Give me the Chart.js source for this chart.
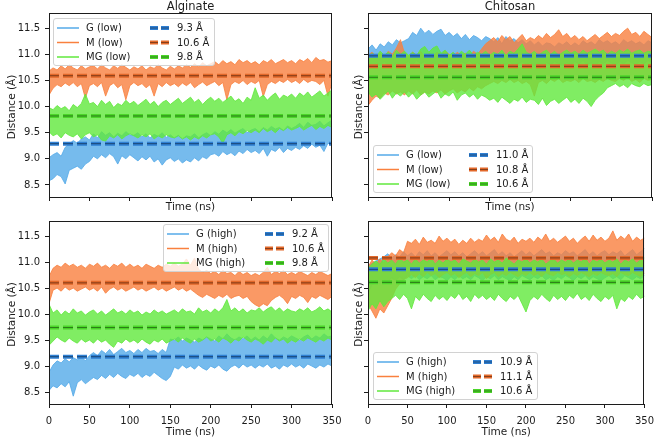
<!DOCTYPE html>
<html>
<head>
<meta charset="utf-8">
<script src="https://cdn.jsdelivr.net/npm/chart.js@4"></script>
<style>
  body { margin: 0; background: #fff; }
  canvas { position: absolute; left: 0; top: 0; }
</style>
</head>
<body>
<canvas id="c0" width="661" height="438"></canvas>
<canvas id="c1" width="661" height="438"></canvas>
<canvas id="c2" width="661" height="438"></canvas>
<canvas id="c3" width="661" height="438"></canvas>
<script>
// time axis, every 5 ns
const time = Array.from({ length: 71 }, (_, i) => i * 5);
const xTicks = [0, 50, 100, 150, 200, 250, 300, 350];
const yTicks = [8.5, 9.0, 9.5, 10.0, 10.5, 11.0, 11.5];
const names = ['G', 'M', 'MG'];

// Alginate, low -- upper / lower envelopes of each trace
const algLowG_hi = [9.02, 9.08, 9.12, 9.05, 9.22, 9.28, 9.35, 9.30, 9.38, 9.42, 9.36,
  9.48, 9.40, 9.52, 9.45, 9.50, 9.42, 9.49, 9.44, 9.52, 9.46,
  9.45, 9.50, 9.42, 9.48, 9.40, 9.47, 9.43, 9.50, 9.41, 9.46,
  9.40, 9.45, 9.38, 9.44, 9.42, 9.48, 9.40, 9.46, 9.50, 9.44,
  9.52, 9.47, 9.55, 9.50, 9.56, 9.49, 9.54, 9.58, 9.50, 9.55,
  9.58, 9.52, 9.60, 9.55, 9.62, 9.57, 9.60, 9.54, 9.63, 9.58,
  9.62, 9.68, 9.60, 9.70, 9.64, 9.66, 9.72, 9.63, 9.69, 9.74];
const algLowG_lo = [8.58, 8.62, 8.70, 8.66, 8.52, 8.78, 8.82, 8.86, 8.80, 8.90, 8.95,
  9.05, 9.00, 9.08, 9.02, 9.10, 9.04, 8.90, 9.06, 9.00, 9.08,
  9.02, 8.96, 9.04, 8.98, 9.05, 8.94, 9.00, 8.88, 8.98, 9.02,
  8.95, 9.00, 8.92, 8.98, 8.94, 9.02, 8.96, 9.04, 9.00, 9.08,
  9.10, 9.05, 9.14, 9.08, 9.12, 9.06, 9.15, 9.10, 9.18, 9.12,
  9.16, 9.10, 9.20, 9.05, 9.18, 9.14, 9.22, 9.12, 9.20, 9.16,
  9.22, 9.18, 9.25, 9.20, 9.28, 9.22, 9.26, 9.14, 9.30, 9.25];
const algLowM_hi = [10.68, 10.74, 10.70, 10.78, 10.72, 10.80, 10.74, 10.70, 10.78, 10.72, 10.76,
  10.78, 10.72, 10.80, 10.74, 10.70, 10.78, 10.73, 10.80, 10.75, 10.70,
  10.76, 10.72, 10.78, 10.70, 10.76, 10.73, 10.80, 10.74, 10.70, 10.77,
  10.72, 10.78, 10.74, 10.80, 10.75, 10.82, 10.76, 10.84, 10.78, 10.82,
  10.86, 10.80, 10.88, 10.82, 10.86, 10.80, 10.90, 10.84, 10.88, 10.82,
  10.86, 10.80, 10.88, 10.84, 10.90, 10.82, 10.86, 10.90, 10.84, 10.88,
  10.82, 10.90, 10.86, 10.92, 10.84, 10.94, 10.88, 10.90, 10.85, 10.88];
const algLowM_lo = [10.22, 10.35, 10.42, 10.38, 10.45, 10.40, 10.46, 10.38, 10.44, 10.16, 10.40,
  10.44, 10.38, 10.46, 10.20, 10.40, 10.45, 10.36, 10.42, 10.13, 10.40,
  10.46, 10.40, 10.44, 10.36, 10.42, 10.20, 10.44, 10.38, 10.46, 10.40,
  10.44, 10.38, 10.45, 10.40, 10.46, 10.36, 10.42, 10.47, 10.40, 10.44,
  10.48, 10.40, 10.46, 10.13, 10.42, 10.48, 10.44, 10.50, 10.42, 10.48,
  10.44, 10.50, 10.19, 10.42, 10.48, 10.44, 10.50, 10.46, 10.52, 10.46,
  10.50, 10.44, 10.52, 10.46, 10.50, 10.48, 10.42, 10.50, 10.20, 10.46];
const algLowMG_hi = [9.98, 9.94, 10.02, 9.96, 10.00, 9.92, 10.04, 9.98, 10.06, 10.24, 10.05,
  10.08, 10.00, 10.12, 10.04, 10.10, 9.98, 10.06, 10.02, 10.12, 10.05,
  10.10, 10.02, 10.08, 10.14, 10.04, 10.10, 10.00, 10.08, 10.12, 10.04,
  10.10, 10.16, 10.06, 10.12, 10.18, 10.08, 10.14, 10.04, 10.12, 10.18,
  10.10, 10.16, 10.08, 10.14, 10.20, 10.10, 10.15, 10.06, 10.18, 10.12,
  10.36, 10.16, 10.22, 10.12, 10.20, 10.26, 10.14, 10.22, 10.18, 10.24,
  10.16, 10.26, 10.20, 10.28, 10.18, 10.24, 10.30, 10.20, 10.26, 10.32];
const algLowMG_lo = [9.52, 9.44, 9.48, 9.40, 9.50, 9.45, 9.42, 9.48, 9.38, 9.46, 9.50,
  9.42, 9.46, 9.36, 9.34, 9.44, 9.40, 9.46, 9.38, 9.44, 9.48,
  9.44, 9.40, 9.46, 9.42, 9.48, 9.38, 9.44, 9.40, 9.46, 9.42,
  9.40, 9.44, 9.38, 9.42, 9.36, 9.42, 9.38, 9.44, 9.40, 9.46,
  9.48, 9.42, 9.30, 9.46, 9.50, 9.44, 9.52, 9.48, 9.54, 9.50,
  9.55, 9.50, 9.58, 9.52, 9.56, 9.50, 9.58, 9.54, 9.60, 9.55,
  9.58, 9.62, 9.55, 9.60, 9.64, 9.56, 9.62, 9.58, 9.64, 9.60];
const algLowMeans = [9.29, 10.59, 9.82];
const algLowMeanLabels = ['9.3 Å', '10.6 Å', '9.8 Å'];

// Chitosan, low
const chiLowG_hi = [11.10, 11.18, 11.08, 11.20, 11.14, 11.24, 11.18, 11.28, 11.22, 11.26, 11.30,
  11.42, 11.36, 11.50, 11.40, 11.46, 11.38, 11.44, 11.48, 11.36, 11.42,
  11.34, 11.40, 11.30, 11.38, 11.28, 11.36, 11.32, 11.26, 11.34, 11.30,
  11.24, 11.32, 11.20, 11.34, 11.26, 11.30, 11.22, 11.28, 11.20, 11.26,
  11.18, 11.24, 11.16, 11.22, 11.20, 11.14, 11.22, 11.18, 11.24, 11.16,
  11.22, 11.16, 11.26, 11.20, 11.24, 11.18, 11.28, 11.22, 11.26, 11.20,
  11.24, 11.18, 11.28, 11.22, 11.26, 11.20, 11.24, 11.18, 11.26, 11.22];
const chiLowG_lo = [10.82, 10.76, 10.84, 10.78, 10.86, 10.80, 10.76, 10.84, 10.78, 10.82, 10.86,
  10.80, 10.88, 10.82, 10.86, 10.78, 10.84, 10.80, 10.86, 10.82, 10.78,
  10.84, 10.80, 10.86, 10.82, 10.88, 10.80, 10.84, 10.78, 10.82, 10.86,
  10.80, 10.76, 10.84, 10.80, 10.86, 10.78, 10.82, 10.86, 10.80, 10.84,
  10.78, 10.82, 10.76, 10.84, 10.80, 10.86, 10.82, 10.78, 10.84, 10.80,
  10.86, 10.82, 10.88, 10.80, 10.84, 10.78, 10.86, 10.82, 10.88, 10.84,
  10.80, 10.86, 10.82, 10.88, 10.84, 10.80, 10.86, 10.82, 10.88, 10.84];
const chiLowM_hi = [10.98, 11.04, 10.96, 11.02, 10.94, 11.06, 11.00, 11.12, 11.28, 11.02, 10.96,
  11.04, 10.98, 11.06, 10.94, 11.02, 10.96, 11.04, 10.98, 11.06, 11.00,
  10.96, 11.04, 10.98, 11.02, 10.94, 11.06, 11.00, 11.10, 11.20, 11.26,
  11.32, 11.24, 11.36, 11.28, 11.34, 11.22, 11.30, 11.38, 11.26, 11.32,
  11.28, 11.36, 11.30, 11.40, 11.32, 11.38, 11.47, 11.34, 11.40, 11.30,
  11.36, 11.28, 11.34, 11.26, 11.32, 11.38, 11.30, 11.36, 11.42, 11.34,
  11.40, 11.36, 11.44, 11.50, 11.38, 11.42, 11.34, 11.44, 11.38, 11.32];
const chiLowM_lo = [10.02, 10.12, 10.20, 10.16, 10.26, 10.22, 10.30, 10.24, 10.28, 10.22, 10.30,
  10.24, 10.32, 10.22, 10.28, 10.24, 10.30, 10.26, 10.32, 10.24, 10.30,
  10.34, 10.26, 10.32, 10.28, 10.36, 10.30, 10.38, 10.34, 10.40, 10.44,
  10.48, 10.44, 10.50, 10.46, 10.52, 10.46, 10.50, 10.44, 10.48, 10.42,
  10.20, 10.46, 10.50, 10.44, 10.52, 10.48, 10.54, 10.46, 10.50, 10.48,
  10.52, 10.46, 10.54, 10.48, 10.50, 10.46, 10.52, 10.48, 10.54, 10.50,
  10.48, 10.54, 10.50, 10.56, 10.48, 10.52, 10.46, 10.54, 10.50, 10.52];
const chiLowMG_hi = [10.94, 11.02, 10.96, 11.06, 10.98, 11.04, 10.96, 11.08, 11.00, 11.06, 10.98,
  11.04, 10.98, 11.10, 11.15, 11.04, 11.12, 11.16, 11.02, 11.08, 10.98,
  11.04, 10.96, 11.06, 11.00, 11.08, 10.98, 11.04, 11.00, 11.06, 10.98,
  11.04, 11.00, 11.08, 10.98, 11.06, 11.02, 11.10, 11.20, 11.04, 11.00,
  11.06, 10.98, 11.04, 11.08, 11.00, 11.06, 10.98, 11.04, 11.08, 11.02,
  11.06, 11.00, 11.08, 11.02, 11.06, 11.10, 11.04, 11.08, 11.00, 11.06,
  11.02, 11.08, 11.04, 11.10, 11.02, 11.06, 11.08, 11.02, 11.06, 11.04];
const chiLowMG_lo = [10.28, 10.18, 10.24, 10.14, 10.22, 10.30, 10.16, 10.26, 10.20, 10.28, 10.18,
  10.26, 10.14, 10.22, 10.28, 10.18, 10.24, 10.30, 10.16, 10.24, 10.20,
  10.28, 10.12, 10.22, 10.26, 10.18, 10.24, 10.14, 10.22, 10.18, 10.12,
  10.16, 10.08, 10.18, 10.12, 10.06, 10.14, 10.10, 10.18, 10.08, 10.14,
  10.12, 10.04, 10.16, 10.02, 10.10, 10.14, 10.06, 10.12, 10.18, 10.08,
  10.14, 10.06, 10.16, 10.10, 10.00, 10.12, 10.20, 10.26, 10.36, 10.40,
  10.44, 10.38, 10.42, 10.36, 10.44, 10.40, 10.38, 10.44, 10.40, 10.42];
const chiLowMeans = [10.97, 10.77, 10.56];
const chiLowMeanLabels = ['11.0 Å', '10.8 Å', '10.6 Å'];

// Alginate, high
const algHighG_hi = [8.88, 9.02, 9.10, 9.06, 9.14, 9.08, 9.16, 9.12, 9.18, 9.10, 9.20,
  9.26, 9.20, 9.30, 9.24, 9.32, 9.22, 9.28, 9.34, 9.26, 9.30,
  9.24, 9.32, 9.26, 9.34, 9.28, 9.30, 9.24, 9.32, 9.26, 9.52,
  9.50, 9.56, 9.48, 9.54, 9.50, 9.46, 9.54, 9.50, 9.56, 9.52,
  9.48, 9.58, 9.52, 9.62, 9.54, 9.50, 9.56, 9.52, 9.58, 9.50,
  9.56, 9.50, 9.58, 9.52, 9.62, 9.54, 9.50, 9.56, 9.52, 9.58,
  9.54, 9.50, 9.56, 9.60, 9.52, 9.58, 9.54, 9.62, 9.56, 9.58];
const algHighG_lo = [8.53, 8.62, 8.58, 8.66, 8.60, 8.70, 8.42, 8.68, 8.74, 8.66, 8.72,
  8.78, 8.74, 8.82, 8.76, 8.84, 8.78, 8.86, 8.80, 8.76, 8.84,
  8.80, 8.86, 8.78, 8.84, 8.80, 8.88, 8.82, 8.76, 8.72, 8.80,
  8.98, 8.94, 9.02, 8.96, 9.00, 8.94, 9.02, 8.96, 8.92, 9.00,
  8.96, 9.02, 8.94, 8.90, 8.98, 9.02, 8.96, 9.04, 8.98, 9.02,
  8.96, 9.02, 8.98, 9.04, 8.96, 9.00, 8.94, 9.02, 8.98, 9.04,
  8.98, 9.02, 8.96, 9.04, 9.00, 8.96, 9.02, 8.98, 9.04, 9.00];
const algHighM_hi = [10.72, 10.88, 10.94, 10.90, 10.98, 10.92, 10.96, 10.90, 10.94, 10.88, 10.96,
  10.92, 10.98, 10.90, 10.94, 10.88, 10.96, 10.92, 10.98, 10.90, 10.96,
  10.90, 10.94, 10.88, 10.96, 10.92, 10.88, 10.94, 10.90, 10.96, 10.92,
  10.98, 10.92, 10.96, 11.06, 10.94, 11.08, 10.86, 10.80, 10.84, 10.78,
  10.82, 10.76, 10.84, 10.78, 10.80, 10.74, 10.82, 10.76, 10.80, 10.74,
  10.78, 10.74, 10.80, 10.90, 10.76, 10.82, 10.78, 10.84, 10.76, 10.80,
  10.76, 10.82, 10.78, 10.74, 10.80, 10.76, 10.82, 10.78, 10.74, 10.78];
const algHighM_lo = [10.20, 10.46, 10.50, 10.44, 10.52, 10.46, 10.50, 10.44, 10.48, 10.52, 10.46,
  10.50, 10.44, 10.52, 10.40, 10.48, 10.52, 10.46, 10.50, 10.44, 10.48,
  10.52, 10.46, 10.50, 10.44, 10.48, 10.52, 10.46, 10.50, 10.44, 10.48,
  10.52, 10.46, 10.50, 10.44, 10.48, 10.42, 10.36, 10.32, 10.38, 10.34,
  10.30, 10.36, 10.32, 10.38, 10.30, 10.34, 10.36, 10.30, 10.34, 10.24,
  10.18, 10.14, 10.20, 10.16, 10.26, 10.32, 10.36, 10.30, 10.20, 10.34,
  10.30, 10.36, 10.32, 10.22, 10.34, 10.30, 10.36, 10.32, 10.28, 10.34];
const algHighMG_hi = [10.19, 10.02, 10.08, 9.98, 10.06, 10.00, 10.10, 10.02, 10.06, 9.98, 10.04,
  10.08, 10.00, 10.06, 9.98, 10.04, 10.10, 10.02, 10.06, 10.00, 10.08,
  10.02, 10.06, 9.98, 10.04, 10.00, 10.08, 10.02, 10.06, 10.00, 10.04,
  10.08, 10.02, 10.10, 10.04, 10.06, 10.00, 10.12, 10.04, 10.08, 10.02,
  10.10, 10.04, 10.12, 10.28, 10.06, 10.12, 10.04, 10.10, 10.02, 10.08,
  10.06, 10.12, 10.04, 10.10, 10.14, 10.06, 10.12, 10.04, 10.10, 10.06,
  10.04, 10.10, 10.06, 10.12, 10.04, 10.08, 10.14, 10.06, 10.10, 10.04];
const algHighMG_lo = [9.40, 9.48, 9.56, 9.50, 9.46, 9.54, 9.48, 9.44, 9.52, 9.46, 9.50,
  9.44, 9.52, 9.46, 9.50, 9.42, 9.36, 9.48, 9.44, 9.52, 9.46,
  9.50, 9.44, 9.52, 9.46, 9.42, 9.50, 9.46, 9.52, 9.44, 9.48,
  9.52, 9.46, 9.54, 9.48, 9.44, 9.52, 9.46, 9.50, 9.56, 9.48,
  9.52, 9.46, 9.54, 9.50, 9.44, 9.52, 9.48, 9.56, 9.50, 9.46,
  9.52, 9.48, 9.42, 9.50, 9.46, 9.54, 9.48, 9.52, 9.44, 9.50,
  9.46, 9.52, 9.48, 9.54, 9.50, 9.46, 9.52, 9.48, 9.54, 9.50];
const algHighMeans = [9.18, 10.60, 9.74];
const algHighMeanLabels = ['9.2 Å', '10.6 Å', '9.8 Å'];

// Chitosan, high
const chiHighG_hi = [10.92, 10.98, 11.02, 11.06, 11.10, 11.16, 11.08, 11.14, 11.10, 11.20, 11.12,
  11.18, 11.10, 11.20, 11.14, 11.22, 11.12, 11.18, 11.10, 11.16, 11.22,
  11.14, 11.20, 11.12, 11.18, 11.10, 11.16, 11.22, 11.14, 11.20, 11.12,
  11.18, 11.24, 11.14, 11.20, 11.12, 11.18, 11.10, 11.16, 11.22, 11.14,
  11.20, 11.12, 11.18, 11.24, 11.16, 11.20, 11.12, 11.18, 11.14, 11.22,
  11.16, 11.20, 11.12, 11.18, 11.24, 11.14, 11.20, 11.12, 11.18, 11.22,
  11.14, 11.20, 11.16, 11.22, 11.12, 11.18, 11.24, 11.14, 11.20, 11.26];
const chiHighG_lo = [10.40, 10.56, 10.62, 10.58, 10.66, 10.62, 10.70, 10.64, 10.72, 10.66, 10.74,
  10.68, 10.74, 10.66, 10.72, 10.68, 10.74, 10.66, 10.72, 10.70, 10.64,
  10.72, 10.66, 10.74, 10.68, 10.72, 10.66, 10.74, 10.70, 10.64, 10.72,
  10.68, 10.74, 10.66, 10.72, 10.68, 10.64, 10.72, 10.66, 10.74, 10.70,
  10.66, 10.72, 10.68, 10.74, 10.66, 10.70, 10.64, 10.72, 10.68, 10.74,
  10.70, 10.64, 10.72, 10.68, 10.74, 10.66, 10.72, 10.68, 10.64, 10.70,
  10.74, 10.68, 10.72, 10.66, 10.74, 10.70, 10.66, 10.72, 10.68, 10.74];
const chiHighM_hi = [10.90, 11.04, 10.96, 11.06, 10.98, 11.10, 11.18, 11.12, 11.24, 11.18, 11.40,
  11.36, 11.44, 11.34, 11.48, 11.38, 11.42, 11.36, 11.50, 11.40, 11.46,
  11.38, 11.44, 11.34, 11.42, 11.36, 11.46, 11.38, 11.44, 11.40, 11.52,
  11.42, 11.48, 11.38, 11.54, 11.44, 11.40, 11.48, 11.36, 11.44, 11.40,
  11.46, 11.38, 11.48, 11.42, 11.54, 11.40, 11.46, 11.38, 11.44, 11.50,
  11.40, 11.46, 11.36, 11.44, 11.50, 11.40, 11.52, 11.42, 11.48, 11.40,
  11.46, 11.60, 11.42, 11.50, 11.44, 11.54, 11.40, 11.48, 11.42, 11.46];
const chiHighM_lo = [10.20, 10.06, 9.92, 10.10, 10.02, 10.16, 10.30, 10.48, 10.58, 10.66, 10.70,
  10.76, 10.70, 10.78, 10.72, 10.80, 10.74, 10.78, 10.70, 10.76, 10.80,
  10.74, 10.78, 10.70, 10.76, 10.80, 10.72, 10.78, 10.74, 10.80, 10.68,
  10.76, 10.80, 10.72, 10.78, 10.74, 10.80, 10.76, 10.72, 10.78, 10.74,
  10.80, 10.74, 10.78, 10.72, 10.80, 10.76, 10.74, 10.80, 10.76, 10.78,
  10.72, 10.78, 10.74, 10.80, 10.76, 10.72, 10.78, 10.74, 10.80, 10.76,
  10.74, 10.78, 10.72, 10.80, 10.76, 10.74, 10.80, 10.76, 10.72, 10.78];
const chiHighMG_hi = [10.88, 10.96, 11.02, 10.96, 11.06, 10.98, 11.04, 10.96, 11.08, 11.00, 11.04,
  10.96, 11.06, 10.98, 11.04, 11.00, 11.08, 10.96, 11.04, 10.98, 11.06,
  11.00, 11.04, 10.96, 11.06, 11.02, 10.98, 11.06, 11.00, 11.04, 10.96,
  11.06, 11.00, 11.04, 10.98, 11.08, 11.02, 10.96, 11.04, 11.00, 11.06,
  10.98, 11.04, 11.00, 11.06, 10.96, 11.02, 11.06, 10.98, 11.04, 11.00,
  11.06, 10.98, 11.04, 11.00, 11.08, 10.96, 11.04, 11.00, 11.06, 10.98,
  11.04, 11.00, 11.06, 10.96, 11.04, 11.00, 11.06, 10.98, 11.04, 11.08];
const chiHighMG_lo = [10.06, 10.20, 10.10, 10.26, 10.14, 10.24, 10.30, 10.36, 10.28, 10.38, 10.30,
  10.10, 10.34, 10.26, 10.38, 10.30, 10.24, 10.36, 10.28, 10.34, 10.26,
  10.36, 10.30, 10.40, 10.28, 10.34, 10.24, 10.38, 10.30, 10.36, 10.28,
  10.34, 10.26, 10.38, 10.30, 10.24, 10.34, 10.28, 10.36, 10.20, 10.04,
  10.26, 10.34, 10.28, 10.38, 10.30, 10.24, 10.36, 10.28, 10.34, 10.26,
  10.36, 10.30, 10.40, 10.28, 10.34, 10.26, 10.38, 10.30, 10.24, 10.34,
  10.28, 10.36, 10.10, 10.30, 10.24, 10.34, 10.28, 10.38, 10.30, 10.34];
const chiHighMeans = [10.86, 11.08, 10.61];
const chiHighMeanLabels = ['10.9 Å', '11.1 Å', '10.6 Å'];

// colours: trace rgb, mean-line colour
const traceRgb = [[84, 170, 232], [249, 128, 62], [96, 232, 60]];
const meanColors = ['#2f7fd2', '#e2682a', '#4cd62a'];
const ink = '#1c1c1c';
const FONT = '"DejaVu Sans", sans-serif';

const rgba = (c, a) => `rgba(${c[0]},${c[1]},${c[2]},${a})`;
const pts = arr => time.map((t, i) => ({ x: t, y: arr[i] }));

const panels = [
  { id: 'c0', title: 'Alginate', tag: 'low', area: [49, 13, 332, 197], xLab: false, yLab: true,
    hi: [algLowG_hi, algLowM_hi, algLowMG_hi], lo: [algLowG_lo, algLowM_lo, algLowMG_lo],
    means: algLowMeans, meanLabels: algLowMeanLabels, legend: { x: 53, y: 18, w: 161, h: 47, col2: 97 } },
  { id: 'c1', title: 'Chitosan', tag: 'low', area: [368, 13, 652, 197], xLab: false, yLab: false,
    hi: [chiLowG_hi, chiLowM_hi, chiLowMG_hi], lo: [chiLowG_lo, chiLowM_lo, chiLowMG_lo],
    means: chiLowMeans, meanLabels: chiLowMeanLabels, legend: { x: 373, y: 145, w: 159, h: 47, col2: 96 } },
  { id: 'c2', title: '', tag: 'high', area: [49, 221, 332, 404], xLab: true, yLab: true,
    hi: [algHighG_hi, algHighM_hi, algHighMG_hi], lo: [algHighG_lo, algHighM_lo, algHighMG_lo],
    means: algHighMeans, meanLabels: algHighMeanLabels, legend: { x: 163, y: 224, w: 165, h: 47, col2: 102 } },
  { id: 'c3', title: '', tag: 'high', area: [368, 221, 652, 404], xLab: true, yLab: false,
    hi: [chiHighG_hi, chiHighM_hi, chiHighMG_hi], lo: [chiHighG_lo, chiHighM_lo, chiHighMG_lo],
    means: chiHighMeans, meanLabels: chiHighMeanLabels, legend: { x: 373, y: 352, w: 164, h: 47, col2: 100 } }
];

function drawLegend(ctx, p) {
  const L = p.legend;
  ctx.save();
  ctx.fillStyle = 'rgba(255,255,255,0.8)';
  ctx.strokeStyle = '#d2d2d2';
  ctx.lineWidth = 1;
  ctx.beginPath();
  if (ctx.roundRect) ctx.roundRect(L.x + 0.5, L.y + 0.5, L.w, L.h, 2.5);
  else ctx.rect(L.x + 0.5, L.y + 0.5, L.w, L.h);
  ctx.fill();
  ctx.stroke();
  ctx.font = '10px ' + FONT;
  ctx.textBaseline = 'middle';
  for (let k = 0; k < 3; k++) {
    const y = L.y + 10 + k * 14.5;
    ctx.setLineDash([]);
    ctx.strokeStyle = rgba(traceRgb[k], 1);
    ctx.lineWidth = 1.5;
    ctx.beginPath(); ctx.moveTo(L.x + 4, y); ctx.lineTo(L.x + 26, y); ctx.stroke();
    ctx.fillStyle = ink;
    ctx.fillText(names[k] + ' (' + p.tag + ')', L.x + 33, y + 0.5);
    const dx = L.x + L.col2;
    ctx.setLineDash([8, 3]);
    ctx.strokeStyle = meanColors[k];
    ctx.lineWidth = 4;
    ctx.beginPath(); ctx.moveTo(dx, y); ctx.lineTo(dx + 21, y); ctx.stroke();
    ctx.strokeStyle = 'rgba(0,0,0,0.4)';
    ctx.lineWidth = 1;
    ctx.beginPath(); ctx.moveTo(dx, y); ctx.lineTo(dx + 21, y); ctx.stroke();
    ctx.setLineDash([]);
    ctx.fillStyle = ink;
    ctx.fillText(p.meanLabels[k], dx + 27, y + 0.5);
  }
  ctx.restore();
}

const decor = {
  id: 'decor',
  afterDraw(chart, args, opts) {
    const p = opts.panel;
    const { ctx, chartArea: a } = chart;
    ctx.save();
    ctx.strokeStyle = ink;
    ctx.lineWidth = 1;
    ctx.strokeRect(Math.round(a.left) + 0.5, Math.round(a.top) + 0.5,
      Math.round(a.right - a.left) - 1, Math.round(a.bottom - a.top));
    ctx.fillStyle = ink;
    ctx.textAlign = 'center';
    const cx = (a.left + a.right) / 2;
    if (p.title) {
      ctx.font = '11.5px ' + FONT;
      ctx.textBaseline = 'alphabetic';
      ctx.fillText(p.title, cx, a.top - 3);
    }
    ctx.font = '10.5px ' + FONT;
    ctx.textBaseline = 'alphabetic';
    ctx.fillText('Time (ns)', cx, a.bottom + (p.xLab ? 30.5 : 12.5));
    ctx.save();
    ctx.translate(p.yLab ? 12 : 359, (a.top + a.bottom) / 2 + 2);
    ctx.rotate(-Math.PI / 2);
    ctx.textBaseline = 'middle';
    ctx.fillText('Distance (Å)', 0, 0);
    ctx.restore();
    ctx.restore();
    drawLegend(ctx, p);
  }
};

panels.forEach(p => {
  const datasets = [];
  // G drawn first (bottom), MG last (top): lower order is drawn on top
  for (let k = 0; k < 3; k++) {
    const c = traceRgb[k];
    datasets.push({ data: pts(p.hi[k]), borderColor: rgba(c, 0.82), borderWidth: 1,
      pointRadius: 0, fill: false, order: 3 - k });
    datasets.push({ data: pts(p.lo[k]), borderColor: rgba(c, 0.82), borderWidth: 1,
      backgroundColor: rgba(c, 0.8), pointRadius: 0, fill: '-1', order: 3 - k });
  }
  for (let k = 0; k < 3; k++) {
    const line = [{ x: 0, y: p.means[k] }, { x: 350, y: p.means[k] }];
    datasets.push({ data: line, borderColor: meanColors[k], borderWidth: 4, borderDash: [10, 4],
      pointRadius: 0, fill: false, order: 0 });
    datasets.push({ data: line, borderColor: 'rgba(0,0,0,0.45)', borderWidth: 1, borderDash: [10, 4],
      pointRadius: 0, fill: false, order: -1 });
  }
  const [l, t, r, b] = p.area;
  new Chart(document.getElementById(p.id), {
    type: 'line',
    data: { datasets },
    plugins: [decor],
    options: {
      responsive: false,
      animation: false,
      layout: { autoPadding: false, padding: { left: l - 40, top: t, right: 661 - r, bottom: 438 - b - 20 } },
      plugins: { legend: { display: false }, tooltip: { enabled: false }, decor: { panel: p } },
      scales: {
        x: {
          type: 'linear', min: 0, max: 350,
          afterBuildTicks: s => { s.ticks = xTicks.map(v => ({ value: v })); },
          afterFit: s => { s.height = 20; },
          ticks: { callback: v => (p.xLab ? String(v) : ''), color: ink, padding: 7,
            maxRotation: 0, autoSkip: false, font: { family: FONT, size: 10 } },
          grid: { drawOnChartArea: false, drawTicks: true, tickLength: 4, color: ink },
          border: { display: false }
        },
        y: {
          type: 'linear', min: 8.27, max: 11.79,
          afterBuildTicks: s => { s.ticks = yTicks.map(v => ({ value: v })); },
          afterFit: s => { s.width = 40; },
          ticks: { callback: v => (p.yLab ? v.toFixed(1) : ''), color: ink, padding: 5,
            autoSkip: false, font: { family: FONT, size: 10 } },
          grid: { drawOnChartArea: false, drawTicks: true, tickLength: 4, color: ink },
          border: { display: false }
        }
      }
    }
  });
});
</script>
</body>
</html>
